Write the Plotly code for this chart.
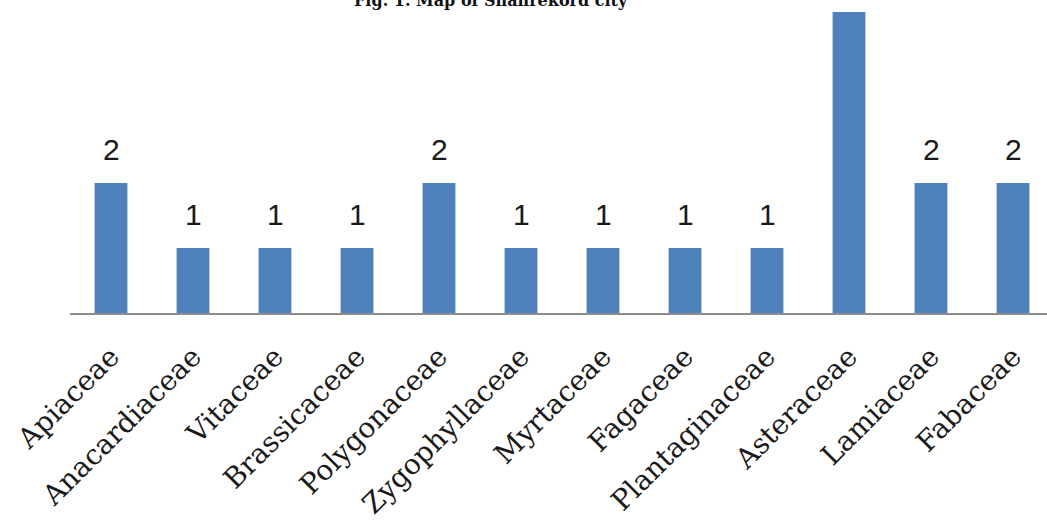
import plotly.graph_objects as go

# Number of species per plant family
families = ["Apiaceae", "Anacardiaceae", "Vitaceae", "Brassicaceae", "Polygonaceae",
            "Zygophyllaceae", "Myrtaceae", "Fagaceae", "Plantaginaceae", "Asteraceae",
            "Lamiaceae", "Fabaceae"]
species = [2, 1, 1, 1, 2, 1, 1, 1, 1, 6, 2, 2]

y_max = 301 / 65
bar_color = "#4F81BD"

fig = go.Figure()
fig.add_trace(go.Bar(
    x=list(range(len(families))),
    y=species,
    width=0.4,
    marker=dict(color=bar_color, line=dict(width=0)),
    hoverinfo="skip",
))

# Value labels above each bar that fits in the plotting range
for i, v in enumerate(species):
    if v <= y_max:
        fig.add_annotation(
            x=i, y=v, xref="x", yref="y", text=str(v), showarrow=False,
            yanchor="bottom", yshift=15,
            font=dict(family="Liberation Sans", size=30, color="#1a1a1a"),
        )

# Caption line at the top edge
fig.add_annotation(
    x=0.431, y=1, xref="paper", yref="paper", xanchor="center", yanchor="middle",
    yshift=12, showarrow=False,
    text="<b>Fig. 1. Map of Shahrekord city</b>",
    font=dict(family="DejaVu Serif", size=16, color="#111"),
)

fig.update_layout(
    width=1047, height=527,
    margin=dict(l=70, r=0, t=12, b=214),
    paper_bgcolor="white", plot_bgcolor="white",
    showlegend=False,
    bargap=0.6,
    xaxis=dict(
        range=[-0.5, 11.5 - 7 / 82],
        tickmode="array",
        tickvals=list(range(len(families))),
        ticktext=families,
        tickangle=-45,
        tickfont=dict(family="DejaVu Serif", size=28, color="#1a1a1a"),
        ticks="outside", ticklen=14, tickcolor="rgba(0,0,0,0)",
        showline=True, linecolor="#8c8c8c", linewidth=2,
        showgrid=False, zeroline=False,
    ),
    yaxis=dict(
        range=[0, y_max],
        visible=False,
        showgrid=False, zeroline=False,
    ),
)

fig.write_html("out.html")
